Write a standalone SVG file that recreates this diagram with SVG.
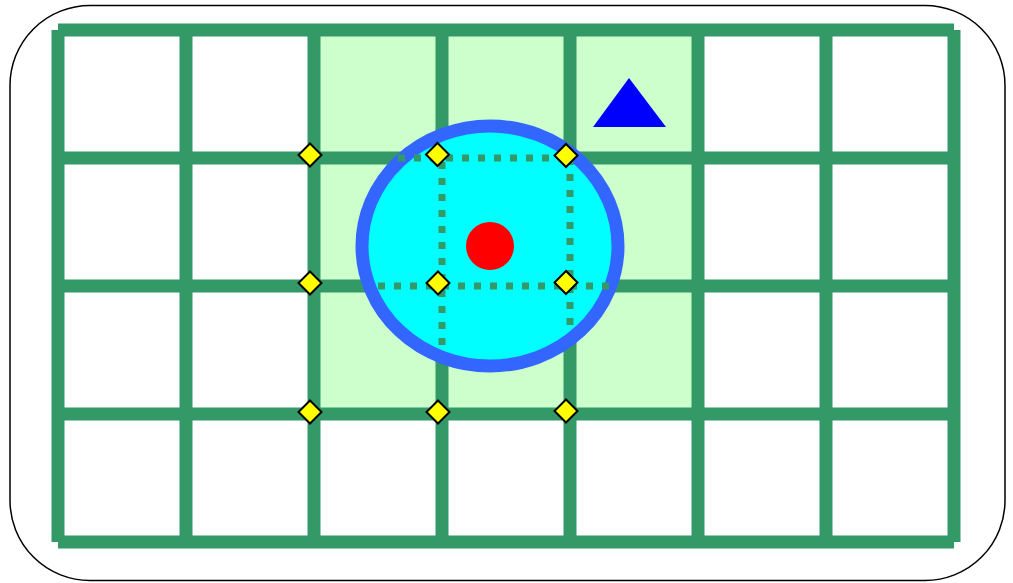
<svg xmlns="http://www.w3.org/2000/svg" width="1013" height="583" viewBox="0 0 1013 583">
  <style>
    .grid { stroke: #339966; stroke-width: 13; fill: none; }
    .dot { stroke: #339966; stroke-width: 7; fill: none; stroke-dasharray: 7 9; }
    .dia { fill: #ffff00; stroke: #000000; stroke-width: 2; }
  </style>
  <defs>
    <polygon id="diamond" class="dia" points="0,-11.5 11.5,0 0,11.5 -11.5,0"/>
  </defs>
  <rect id="frame" x="10" y="5.5" width="995" height="575" rx="80" ry="80" fill="#ffffff" stroke="#000000" stroke-width="1.5"/>
  <rect id="zone" x="314" y="30" width="384" height="384" fill="#ccffcc"/>
  <g id="grid" class="grid">
    <line x1="58" y1="30" x2="954" y2="30"/>
    <line x1="58" y1="158" x2="954" y2="158"/>
    <line x1="58" y1="286" x2="954" y2="286"/>
    <line x1="58" y1="414" x2="954" y2="414"/>
    <line x1="58" y1="542" x2="954" y2="542"/>
    <line x1="58" y1="30" x2="58" y2="542"/>
    <line x1="186" y1="30" x2="186" y2="542"/>
    <line x1="314" y1="30" x2="314" y2="542"/>
    <line x1="442" y1="30" x2="442" y2="542"/>
    <line x1="570" y1="30" x2="570" y2="542"/>
    <line x1="698" y1="30" x2="698" y2="542"/>
    <line x1="826" y1="30" x2="826" y2="542"/>
    <line x1="954" y1="30" x2="954" y2="542"/>
  </g>
  <ellipse id="range" cx="490" cy="246" rx="128" ry="120" fill="#00ffff" stroke="#3366ff" stroke-width="13"/>
  <g id="connectors" class="dot">
    <line x1="398" y1="158" x2="566" y2="158"/>
    <line x1="378" y1="286" x2="610" y2="286"/>
    <line x1="442" y1="162" x2="442" y2="346"/>
    <line x1="570" y1="158" x2="570" y2="326"/>
  </g>
  <circle id="center" cx="490" cy="246" r="24" fill="#ff0000"/>
  <g id="nodes">
    <use href="#diamond" x="310" y="155"/>
    <use href="#diamond" x="437.5" y="154.5"/>
    <use href="#diamond" x="566" y="155.5"/>
    <use href="#diamond" x="310" y="283"/>
    <use href="#diamond" x="438" y="283"/>
    <use href="#diamond" x="566" y="282.5"/>
    <use href="#diamond" x="310" y="412"/>
    <use href="#diamond" x="438" y="412"/>
    <use href="#diamond" x="566" y="411"/>
  </g>
  <polygon id="marker" points="629,78 593,127 666,127" fill="#0000ff"/>
</svg>
